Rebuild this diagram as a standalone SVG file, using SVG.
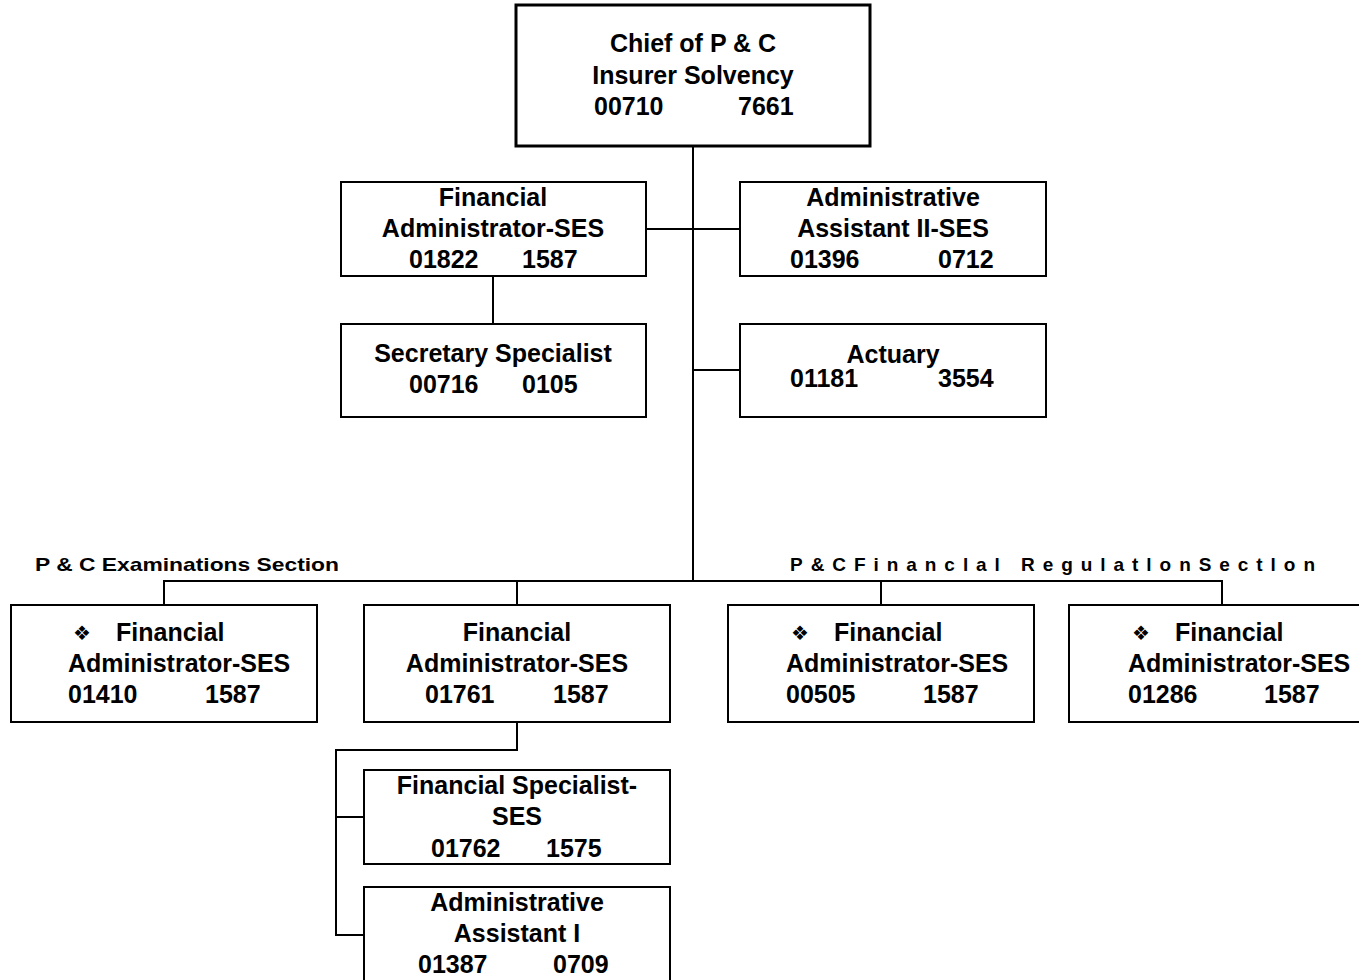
<svg xmlns="http://www.w3.org/2000/svg" width="1359" height="980" viewBox="0 0 1359 980">
  <style>
    .box { fill: #ffffff; stroke: #000000; stroke-width: 2; }
    .top { stroke-width: 3; }
    .link { fill: none; stroke: #000000; stroke-width: 2; }
    text { font-family: "Liberation Sans", Arial, sans-serif; font-weight: bold; font-size: 25px; fill: #000000; }
    .c { text-anchor: middle; }
    .sec { font-size: 19px; }
    .dia { font-family: "DejaVu Sans", sans-serif; font-size: 20px; }
  </style>
  <rect width="1359" height="980" fill="#ffffff"/>

  <!-- connectors -->
  <g id="connectors">
    <path class="link" d="M693 146 V581"/>
    <path class="link" d="M646 229 H740"/>
    <path class="link" d="M493 276 V324"/>
    <path class="link" d="M693 370 H740"/>
    <path class="link" d="M164 605 V581 H1222 V605"/>
    <path class="link" d="M517 581 V605"/>
    <path class="link" d="M881 581 V605"/>
    <path class="link" d="M517 722 V750 H336 V935 H364"/>
    <path class="link" d="M336 817 H364"/>
  </g>

  <!-- section labels -->
  <text class="sec" x="35" y="571" textLength="304" lengthAdjust="spacingAndGlyphs">P &amp; C Examinations Section</text>
  <text class="sec" x="790" y="571" textLength="525" lengthAdjust="spacing">P&amp;CFinanclal RegulatlonSectlon</text>

  <g id="chief">
    <rect class="box top" x="516" y="5" width="354" height="141"/>
    <text class="c" x="693" y="52">Chief of P &amp; C</text>
    <text class="c" x="693" y="84">Insurer Solvency</text>
    <text x="594" y="115">00710</text>
    <text x="738" y="115">7661</text>
  </g>

  <g id="fin-admin-01822">
    <rect class="box" x="341" y="182" width="305" height="94"/>
    <text class="c" x="493" y="206">Financial</text>
    <text class="c" x="493" y="237">Administrator-SES</text>
    <text x="409" y="268">01822</text>
    <text x="522" y="268">1587</text>
  </g>

  <g id="admin-asst-ii">
    <rect class="box" x="740" y="182" width="306" height="94"/>
    <text class="c" x="893" y="206">Administrative</text>
    <text class="c" x="893" y="237">Assistant II-SES</text>
    <text x="790" y="268">01396</text>
    <text x="938" y="268">0712</text>
  </g>

  <g id="secretary">
    <rect class="box" x="341" y="324" width="305" height="93"/>
    <text class="c" x="493" y="362">Secretary Specialist</text>
    <text x="409" y="393">00716</text>
    <text x="522" y="393">0105</text>
  </g>

  <g id="actuary">
    <rect class="box" x="740" y="324" width="306" height="93"/>
    <text class="c" x="893" y="363">Actuary</text>
    <text x="790" y="387">01181</text>
    <text x="938" y="387">3554</text>
  </g>

  <g id="fin-admin-01410">
    <rect class="box" x="11" y="605" width="306" height="117"/>
    <text class="dia" x="73" y="640">❖</text>
    <text x="116" y="641">Financial</text>
    <text x="68" y="672">Administrator-SES</text>
    <text x="68" y="703">01410</text>
    <text x="205" y="703">1587</text>
  </g>

  <g id="fin-admin-01761">
    <rect class="box" x="364" y="605" width="306" height="117"/>
    <text class="c" x="517" y="641">Financial</text>
    <text class="c" x="517" y="672">Administrator-SES</text>
    <text x="425" y="703">01761</text>
    <text x="553" y="703">1587</text>
  </g>

  <g id="fin-admin-00505">
    <rect class="box" x="728" y="605" width="306" height="117"/>
    <text class="dia" x="791" y="640">❖</text>
    <text x="834" y="641">Financial</text>
    <text x="786" y="672">Administrator-SES</text>
    <text x="786" y="703">00505</text>
    <text x="923" y="703">1587</text>
  </g>

  <g id="fin-admin-01286">
    <rect class="box" x="1069" y="605" width="300" height="117"/>
    <text class="dia" x="1132" y="640">❖</text>
    <text x="1175" y="641">Financial</text>
    <text x="1128" y="672">Administrator-SES</text>
    <text x="1128" y="703">01286</text>
    <text x="1264" y="703">1587</text>
  </g>

  <g id="fin-specialist">
    <rect class="box" x="364" y="770" width="306" height="94"/>
    <text class="c" x="517" y="794">Financial Specialist-</text>
    <text class="c" x="517" y="825">SES</text>
    <text x="431" y="857">01762</text>
    <text x="546" y="857">1575</text>
  </g>

  <g id="admin-asst-i">
    <rect class="box" x="364" y="887" width="306" height="100"/>
    <text class="c" x="517" y="911">Administrative</text>
    <text class="c" x="517" y="942">Assistant I</text>
    <text x="418" y="973">01387</text>
    <text x="553" y="973">0709</text>
  </g>
</svg>
